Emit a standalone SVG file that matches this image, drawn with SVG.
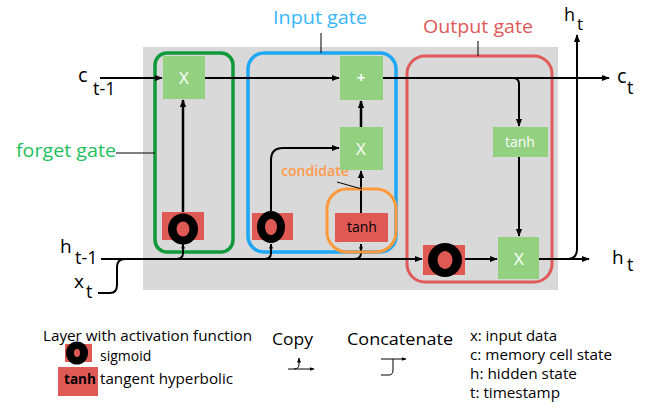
<svg xmlns="http://www.w3.org/2000/svg" width="651" height="408" viewBox="0 0 651 408">
<style>
  .lbl{font-family:"Open Sans","Liberation Sans",sans-serif;fill:#000}
  .wt{font-family:"Open Sans","Liberation Sans",sans-serif;fill:#fff;text-anchor:middle}
  .bk{font-family:"Open Sans","Liberation Sans",sans-serif;fill:#000;text-anchor:middle}
  .op{fill:#93d07f}
  .act{fill:#e05a55}
  .ln{fill:none;stroke:#000;stroke-width:2}
  .lnt{fill:none;stroke:#000;stroke-width:2.5}
  .lead{fill:none;stroke:#000;stroke-width:1}
  .leg{font-family:"Open Sans","Liberation Sans",sans-serif;fill:#000;font-size:14px}
</style>
<defs>
  <marker id="arr" viewBox="0 0 10 10" refX="9" refY="5" markerWidth="8" markerHeight="8" markerUnits="userSpaceOnUse" orient="auto">
    <path d="M0,1 L10,5 L0,9 z" fill="#000"/>
  </marker>
  <marker id="arrs" viewBox="0 0 10 10" refX="9" refY="5" markerWidth="5" markerHeight="5" markerUnits="userSpaceOnUse" orient="auto">
    <path d="M0,1 L10,5 L0,9 z" fill="#000"/>
  </marker>
</defs>
<rect width="651" height="408" fill="#fff"/>
<!-- background panel -->
<rect id="panel" x="143" y="47" width="415" height="243" fill="#d9d9d9"/>

<!-- gate frames -->
<g id="forget-gate">
  <rect x="155" y="53" width="78" height="199" rx="12" fill="none" stroke="#10993a" stroke-width="3.5"/>
  <text x="16" y="157" class="lbl" font-size="19" style="fill:#1fc060" textLength="100" lengthAdjust="spacingAndGlyphs">forget gate</text>
  <path class="lead" d="M116,153 H155"/>
</g>
<g id="input-gate">
  <rect x="248" y="53" width="148" height="199" rx="16" fill="none" stroke="#1ea7f5" stroke-width="3.5"/>
  <text x="273" y="24" class="lbl" font-size="18" style="fill:#38b6ff" textLength="94" lengthAdjust="spacingAndGlyphs">Input gate</text>
  <path class="lead" d="M321,33 V53"/>
</g>
<g id="output-gate">
  <rect x="407" y="56" width="145" height="226" rx="18" fill="none" stroke="#e05a5a" stroke-width="3"/>
  <text x="423" y="33" class="lbl" font-size="18" style="fill:#e05a5a" textLength="110" lengthAdjust="spacingAndGlyphs">Output gate</text>
  <path class="lead" d="M478,41 V56"/>
</g>

<!-- connectors -->
<g id="connectors">
  <path class="ln" d="M100,78 H162" marker-end="url(#arr)"/>
  <path class="ln" d="M205,78 H339" marker-end="url(#arr)"/>
  <path class="ln" d="M383,78 H609" marker-end="url(#arr)"/>
  <path class="ln" d="M507,78 H513 Q519,78 519,84 V126" marker-end="url(#arr)"/>
  <path class="ln" d="M519,157 V236" marker-end="url(#arr)"/>
  <path class="ln" d="M101,259 H422" marker-end="url(#arr)"/>
  <path class="ln" d="M98,293 H110 Q117,293 117,285 V267 Q117,259 125,259"/>
  <path class="ln" d="M176,259 Q183,259 183,253 V244" marker-end="url(#arrs)"/>
  <path class="lnt" d="M183,213 V100" marker-end="url(#arr)"/>
  <path class="ln" d="M264,259 Q271,259 271,253 V244" marker-end="url(#arrs)"/>
  <path class="ln" d="M271,211 V160 Q271,148 283,148 H339" marker-end="url(#arr)"/>
  <path class="ln" d="M354,259 Q361,259 361,253 V244" marker-end="url(#arrs)"/>
  <path class="ln" d="M361,213 V171" marker-end="url(#arr)"/>
  <path class="lnt" d="M361,127 V101" marker-end="url(#arr)"/>
  <path class="ln" d="M465,259 H497" marker-end="url(#arr)"/>
  <path class="ln" d="M539,259 H589" marker-end="url(#arr)"/>
  <path class="ln" d="M567,259 Q577,259 577,249 V35" marker-end="url(#arr)"/>
</g>

<!-- nodes -->
<g id="forget-mul">
  <rect class="op" x="163" y="56" width="42" height="43"/>
  <text x="184" y="84" class="wt" font-size="17">X</text>
</g>
<g id="forget-sigmoid">
  <rect class="act" x="162" y="212" width="42" height="28"/>
  <ellipse cx="183" cy="229" rx="15" ry="15.5" fill="#000"/>
  <ellipse cx="183" cy="229" rx="6.5" ry="7.5" fill="#e05a55"/>
</g>
<g id="input-sigmoid">
  <rect class="act" x="252" y="213" width="41" height="27"/>
  <ellipse cx="271" cy="227" rx="14" ry="16" fill="#000"/>
  <ellipse cx="271" cy="227" rx="6" ry="8" fill="#e05a55"/>
</g>
<g id="candidate-tanh">
  <rect x="327" y="189" width="69" height="63" rx="20" fill="none" stroke="#ff9a3c" stroke-width="3"/>
  <rect class="act" x="335" y="213" width="53" height="29"/>
  <text x="362" y="232" class="bk" font-size="14">tanh</text>
  <text x="281" y="176" class="lbl" font-size="14" font-weight="600" style="fill:#ff9a4a" textLength="68" lengthAdjust="spacingAndGlyphs">condidate</text>
  <path class="lead" d="M337,182 L362,189"/>
</g>
<g id="input-mul">
  <rect class="op" x="340" y="127" width="43" height="43"/>
  <text x="361" y="155" class="wt" font-size="17">X</text>
</g>
<g id="cell-add">
  <rect class="op" x="340" y="56" width="43" height="44"/>
  <text x="361" y="83" class="wt" font-size="15" font-weight="bold">+</text>
</g>
<g id="output-tanh">
  <rect class="op" x="493" y="127" width="55" height="30"/>
  <text x="520" y="147" class="wt" font-size="14">tanh</text>
</g>
<g id="output-sigmoid">
  <rect class="act" x="423" y="245" width="42" height="30"/>
  <ellipse cx="445" cy="260" rx="17" ry="17" fill="#000"/>
  <ellipse cx="445" cy="260" rx="7.5" ry="9" fill="#e05a55"/>
</g>
<g id="output-mul">
  <rect class="op" x="498" y="237" width="41" height="42"/>
  <text x="519" y="265" class="wt" font-size="17">X</text>
</g>

<!-- state labels -->
<g id="labels">
  <text x="78" y="82" class="lbl" font-size="20">c</text>
  <text x="93" y="95" class="lbl" font-size="18">t-1</text>
  <text x="60" y="253" class="lbl" font-size="19">h</text>
  <text x="75" y="264" class="lbl" font-size="18">t-1</text>
  <text x="74" y="288" class="lbl" font-size="19">x</text>
  <text x="86" y="298" class="lbl" font-size="18">t</text>
  <text x="617" y="83" class="lbl" font-size="20">c</text>
  <text x="627" y="94" class="lbl" font-size="18">t</text>
  <text x="612" y="264" class="lbl" font-size="19">h</text>
  <text x="627" y="271" class="lbl" font-size="18">t</text>
  <text x="564" y="21" class="lbl" font-size="18">h</text>
  <text x="577" y="30" class="lbl" font-size="17">t</text>
</g>

<!-- legend -->
<g id="legend">
  <text x="43" y="341" class="leg" font-size="15" textLength="209" lengthAdjust="spacingAndGlyphs">Layer with activation function</text>
  <rect class="act" x="65" y="344" width="27" height="18"/>
  <ellipse cx="77" cy="353" rx="11" ry="11.5" fill="#000"/>
  <ellipse cx="77" cy="353" rx="3" ry="4" fill="#e05a55"/>
  <text x="100" y="361" class="leg" font-size="15">sigmoid</text>
  <rect class="act" x="58" y="367" width="40" height="29"/>
  <text x="64" y="384" class="leg" font-size="15" font-weight="bold" textLength="32" lengthAdjust="spacingAndGlyphs">tanh</text>
  <text x="100" y="384" class="leg" font-size="15" textLength="133" lengthAdjust="spacingAndGlyphs">tangent hyperbolic</text>
  <text x="272" y="345" class="leg" style="font-size:16px" textLength="41" lengthAdjust="spacingAndGlyphs">Copy</text>
  <text x="347" y="345" class="leg" style="font-size:16px" textLength="106" lengthAdjust="spacingAndGlyphs">Concatenate</text>
  <path d="M288,369 H314" fill="none" stroke="#000" stroke-width="1" marker-end="url(#arrs)"/>
  <path d="M294,369 Q299,369 299,364 V358" fill="none" stroke="#000" stroke-width="1" marker-end="url(#arrs)"/>
  <path d="M381,359 H406" fill="none" stroke="#000" stroke-width="1" marker-end="url(#arrs)"/>
  <path d="M381,375 H389 Q393,375 393,370 V359" fill="none" stroke="#000" stroke-width="1"/>
  <text x="470" y="341" class="leg" font-size="15" textLength="87" lengthAdjust="spacingAndGlyphs">x: input data</text>
  <text x="470" y="360" class="leg" font-size="15" textLength="142" lengthAdjust="spacingAndGlyphs">c: memory cell state</text>
  <text x="470" y="379" class="leg" font-size="15" textLength="107" lengthAdjust="spacingAndGlyphs">h: hidden state</text>
  <text x="470" y="398" class="leg" font-size="15" textLength="90" lengthAdjust="spacingAndGlyphs">t: timestamp</text>
</g>
</svg>
